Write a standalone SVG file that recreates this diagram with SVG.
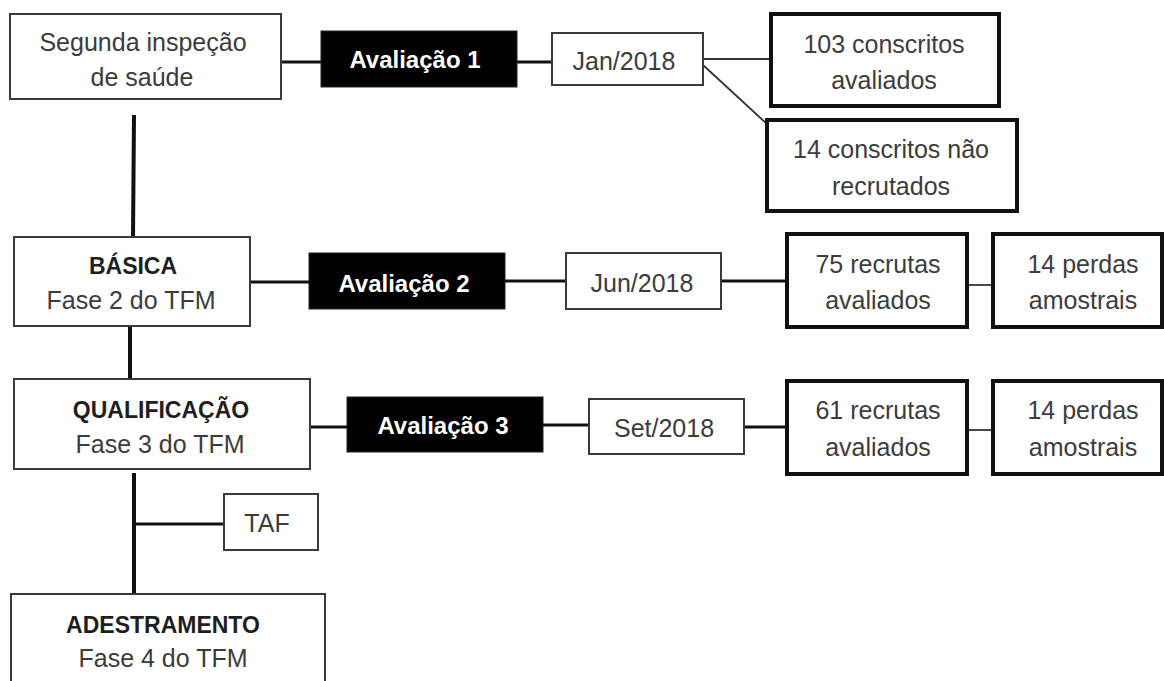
<svg xmlns="http://www.w3.org/2000/svg" width="1164" height="681" viewBox="0 0 1164 681">
<style>
.thin{fill:#fff;stroke:#3a3a3a;stroke-width:2}
.thick{fill:#fff;stroke:#111;stroke-width:4}
.dark{fill:#000;stroke:#222;stroke-width:1}
text{font-family:"Liberation Sans",Arial,sans-serif;font-size:25px;text-anchor:middle}
.t{fill:#3c3c3c}
.b{fill:#1e1e1e;font-weight:bold;font-size:23px}
.w{fill:#fff;font-weight:bold;font-size:24px}
.c{stroke:#111;stroke-width:3;fill:none}
.cv{stroke:#111;stroke-width:4;fill:none}
.cs{stroke:#333;stroke-width:1.8;fill:none}
</style>
<rect width="1164" height="681" fill="#fff"/>
<g id="connectors">
<line class="c" x1="281" y1="62" x2="321" y2="62"/>
<line class="c" x1="517" y1="62" x2="552" y2="62"/>
<line class="cs" x1="703" y1="59" x2="771" y2="59"/>
<line class="cs" x1="703" y1="65" x2="767" y2="124"/>
<line class="cv" x1="134" y1="115" x2="133" y2="237"/>
<line class="c" x1="250" y1="282" x2="309" y2="282"/>
<line class="c" x1="505" y1="281" x2="566" y2="281"/>
<line class="c" x1="721" y1="281" x2="787" y2="281"/>
<line class="cs" x1="967" y1="285" x2="992" y2="285"/>
<line class="cv" x1="130" y1="326" x2="130" y2="379"/>
<line class="c" x1="310" y1="427" x2="347" y2="427"/>
<line class="c" x1="543" y1="425" x2="589" y2="425"/>
<line class="c" x1="744" y1="427" x2="787" y2="427"/>
<line class="cs" x1="967" y1="430" x2="992" y2="430"/>
<line class="cv" x1="134" y1="473" x2="134" y2="594"/>
<line class="c" x1="134" y1="524" x2="224" y2="524"/>
</g>
<g id="segunda">
<rect class="thin" x="10" y="14" width="271" height="85"/>
<text class="t" x="143" y="51">Segunda inspeção</text>
<text class="t" x="142" y="86">de saúde</text>
</g>
<g id="av1">
<rect class="dark" x="321" y="31" width="196" height="56"/>
<text class="w" x="415" y="68">Avaliação 1</text>
</g>
<g id="jan">
<rect class="thin" x="552" y="33" width="151" height="52"/>
<text class="t" x="624" y="70">Jan/2018</text>
</g>
<g id="n103">
<rect class="thick" x="771" y="14" width="228" height="92"/>
<text class="t" x="884" y="53">103 conscritos</text>
<text class="t" x="884" y="89">avaliados</text>
</g>
<g id="n14nao">
<rect class="thick" x="767" y="120" width="250" height="91"/>
<text class="t" x="891" y="158">14 conscritos não</text>
<text class="t" x="891" y="195">recrutados</text>
</g>
<g id="basica">
<rect class="thin" x="14" y="237" width="236" height="89"/>
<text class="b" x="133" y="274">BÁSICA</text>
<text class="t" x="131" y="309">Fase 2 do TFM</text>
</g>
<g id="av2">
<rect class="dark" x="309" y="253" width="196" height="56"/>
<text class="w" x="404" y="292">Avaliação 2</text>
</g>
<g id="jun">
<rect class="thin" x="566" y="253" width="155" height="56"/>
<text class="t" x="642" y="292">Jun/2018</text>
</g>
<g id="n75">
<rect class="thick" x="787" y="234" width="180" height="93"/>
<text class="t" x="878" y="273">75 recrutas</text>
<text class="t" x="878" y="309">avaliados</text>
</g>
<g id="perdas1">
<rect class="thick" x="993" y="234" width="169" height="93"/>
<text class="t" x="1083" y="273">14 perdas</text>
<text class="t" x="1083" y="309">amostrais</text>
</g>
<g id="qualificacao">
<rect class="thin" x="14" y="379" width="296" height="90"/>
<text class="b" x="161" y="418">QUALIFICAÇÃO</text>
<text class="t" x="160" y="453">Fase 3 do TFM</text>
</g>
<g id="av3">
<rect class="dark" x="347" y="397" width="196" height="55"/>
<text class="w" x="443" y="434">Avaliação 3</text>
</g>
<g id="set">
<rect class="thin" x="589" y="399" width="155" height="55"/>
<text class="t" x="664" y="437">Set/2018</text>
</g>
<g id="n61">
<rect class="thick" x="787" y="381" width="180" height="93"/>
<text class="t" x="878" y="419">61 recrutas</text>
<text class="t" x="878" y="456">avaliados</text>
</g>
<g id="perdas2">
<rect class="thick" x="993" y="381" width="169" height="93"/>
<text class="t" x="1083" y="419">14 perdas</text>
<text class="t" x="1083" y="456">amostrais</text>
</g>
<g id="taf">
<rect class="thin" x="224" y="494" width="94" height="56"/>
<text class="t" x="267" y="532">TAF</text>
</g>
<g id="adestramento">
<rect class="thin" x="11" y="594" width="314" height="100"/>
<text class="b" x="163" y="633">ADESTRAMENTO</text>
<text class="t" x="163" y="667">Fase 4 do TFM</text>
</g>
</svg>
